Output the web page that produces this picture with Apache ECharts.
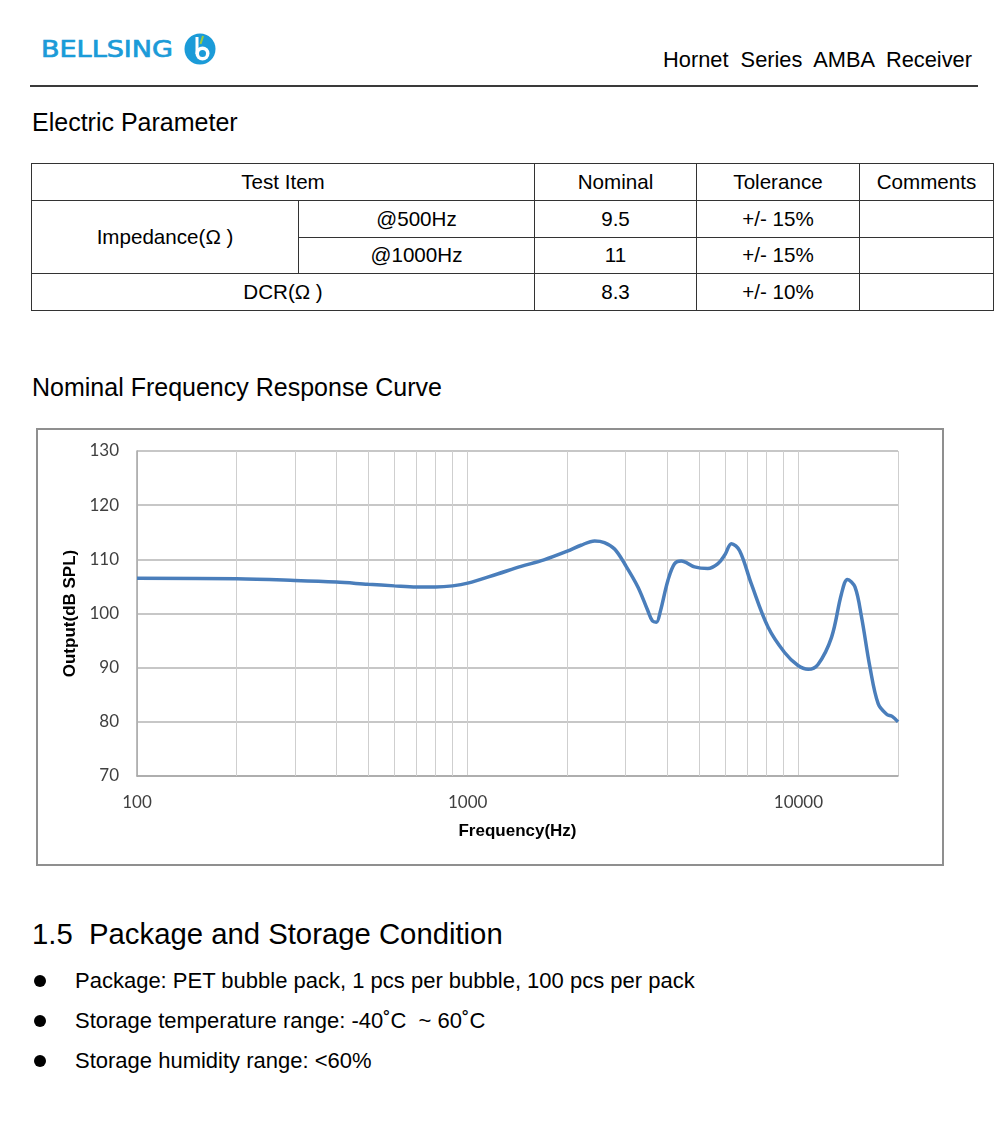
<!DOCTYPE html>
<html>
<head>
<meta charset="utf-8">
<script src="https://cdn.jsdelivr.net/npm/echarts@6/dist/echarts.min.js"></script>
<style>
  html, body { margin:0; padding:0; background:#fff; }
  body { width:1000px; height:1126px; position:relative; font-family:"Liberation Sans", Arial, sans-serif; color:#000; overflow:hidden; }
  .abs { position:absolute; white-space:pre; }
  #hdrline { position:absolute; left:30px; top:85px; width:948px; height:2px; background:#3a3a3a; }
  table { position:absolute; left:31px; top:163px; border-collapse:collapse; font-size:20.6px; }
  td { border:1.5px solid #333; text-align:center; padding:0; height:35.8px; }
  #box { position:absolute; left:36px; top:428px; width:908px; height:438px; border:2px solid #8f8f8f; box-sizing:border-box; }
  #chart { position:absolute; left:0; top:0; width:904px; height:434px; }
  .bullet { position:absolute; width:12px; height:12px; border-radius:50%; background:#000; }
</style>
</head>
<body>
<svg class="abs" style="left:36px;top:28px" width="190" height="46" viewBox="36 28 190 46">
  <text x="41" y="57" font-family="DejaVu Sans" font-size="22.5" fill="#1b9bd8" stroke="#1b9bd8" stroke-width="0.7" textLength="132" lengthAdjust="spacingAndGlyphs">BELLSING</text>
  <circle cx="200" cy="49" r="15.5" fill="#1b9bd8"/>
  <circle cx="202.5" cy="53.5" r="7" fill="#fff"/>
  <circle cx="202.5" cy="53.5" r="3.5" fill="#1b9bd8"/>
  <rect x="195.5" y="37" width="3" height="17" fill="#fff"/>
  <line x1="203" y1="36" x2="200.5" y2="44" stroke="#9ccc3c" stroke-width="2"/>
</svg>
<div class="abs" style="right:28px;top:47px;font-size:21.8px;">Hornet  Series  AMBA  Receiver</div>
<div id="hdrline"></div>

<div class="abs" style="left:32px;top:108px;font-size:25px;">Electric Parameter</div>

<table>
  <tr><td colspan="2" style="width:502px">Test Item</td><td style="width:161px">Nominal</td><td style="width:162px">Tolerance</td><td style="width:133px">Comments</td></tr>
  <tr><td rowspan="2" style="width:266px">Impedance(Ω )</td><td style="width:235px">@500Hz</td><td>9.5</td><td>+/- 15%</td><td></td></tr>
  <tr><td>@1000Hz</td><td>11</td><td>+/- 15%</td><td></td></tr>
  <tr><td colspan="2">DCR(Ω )</td><td>8.3</td><td>+/- 10%</td><td></td></tr>
</table>

<div class="abs" style="left:32px;top:373px;font-size:25px;">Nominal Frequency Response Curve</div>

<div id="box"><div id="chart"></div></div>

<div class="abs" style="left:32px;top:917px;font-size:29.3px;">1.5  Package and Storage Condition</div>
<div class="bullet" style="left:34px;top:975px"></div>
<div class="abs" style="left:75px;top:968px;font-size:22px;">Package: PET bubble pack, 1 pcs per bubble, 100 pcs per pack</div>
<div class="bullet" style="left:34px;top:1015px"></div>
<div class="abs" style="left:75px;top:1008px;font-size:22px;">Storage temperature range: -40˚C  ~ 60˚C</div>
<div class="bullet" style="left:34px;top:1055px"></div>
<div class="abs" style="left:75px;top:1048px;font-size:22px;">Storage humidity range: &lt;60%</div>

<script>
// Frequency response data
const freqHz = [100, 200, 300, 400, 500, 600, 700, 800, 900, 1000, 1230, 1450, 1700, 2000, 2200, 2420, 2590, 2780, 3000, 3270, 3500, 3620, 3720, 3820, 4030, 4220, 4420, 4850, 5320, 5710, 6000, 6270, 6640, 7200, 8090, 9080, 9970, 10700, 11460, 12590, 13490, 14070, 14820, 15520, 16450, 17430, 18480, 19200, 20000];
const splDb  = [106.5, 106.4, 106.1, 105.8, 105.4, 105.1, 104.9, 104.9, 105.1, 105.6, 107.3, 108.7, 109.9, 111.5, 112.6, 113.4, 113.1, 111.9, 108.9, 104.9, 100.6, 98.6, 98.4, 100.3, 106.1, 109.2, 109.7, 108.6, 108.3, 109.2, 110.9, 112.9, 111.6, 105.5, 97.5, 92.8, 90.4, 89.7, 90.6, 95.6, 103.6, 106.3, 104.9, 99.3, 90.1, 83.3, 81.4, 81.0, 80.0];
const xMinorGrid = [200, 300, 400, 500, 600, 700, 800, 900, 2000, 3000, 4000, 5000, 6000, 7000, 8000, 9000];
const yTicks = [70, 80, 90, 100, 110, 120, 130];

const chart = echarts.init(document.getElementById('chart'), null, {renderer:'canvas'});
chart.setOption({
  animation: false,
  grid: { left: 99, top: 21, right: 44, bottom: 88 },
  xAxis: {
    type: 'log', logBase: 10, min: 100, max: 20000,
    name: 'Frequency(Hz)', nameLocation: 'middle', nameGap: 47,
    nameTextStyle: { fontFamily: 'Liberation Sans', fontWeight: 'bold', fontSize: 17, color: '#000' },
    axisLine: { show: true, lineStyle: { color: '#a6a6a6', width: 1.5 } },
    axisTick: { show: false },
    axisLabel: { fontFamily: 'Lato', fontSize: 17, color: '#404040', margin: 18, showMaxLabel: false,
      formatter: v => String(Math.round(v)) },
    splitLine: { show: true, lineStyle: { color: '#cfcfcf', width: 1 } }
  },
  yAxis: {
    type: 'value', min: yTicks[0], max: yTicks[yTicks.length - 1], interval: 10,
    name: 'Output(dB SPL)', nameLocation: 'middle', nameGap: 53,
    nameTextStyle: { fontFamily: 'Liberation Sans', fontWeight: 'bold', fontSize: 17, color: '#000' },
    axisLine: { show: true, lineStyle: { color: '#a6a6a6', width: 1.5 } },
    axisTick: { show: false },
    axisLabel: { fontFamily: 'Lato', fontSize: 17, color: '#404040', margin: 18 },
    splitLine: { show: true, lineStyle: { color: '#b5b5b5', width: 1.5 } }
  },
  series: [{
    type: 'line',
    data: freqHz.map((f, i) => [f, splDb[i]]),
    smooth: 0.35,
    symbol: 'none',
    lineStyle: { color: '#4a7ebb', width: 3.5 },
    markLine: {
      silent: true, symbol: ['none', 'none'], label: { show: false },
      lineStyle: { color: '#cfcfcf', type: 'solid', width: 1 },
      data: xMinorGrid.map(v => ({ xAxis: v }))
    },
    z: 5
  }]
});
</script>
</body>
</html>
